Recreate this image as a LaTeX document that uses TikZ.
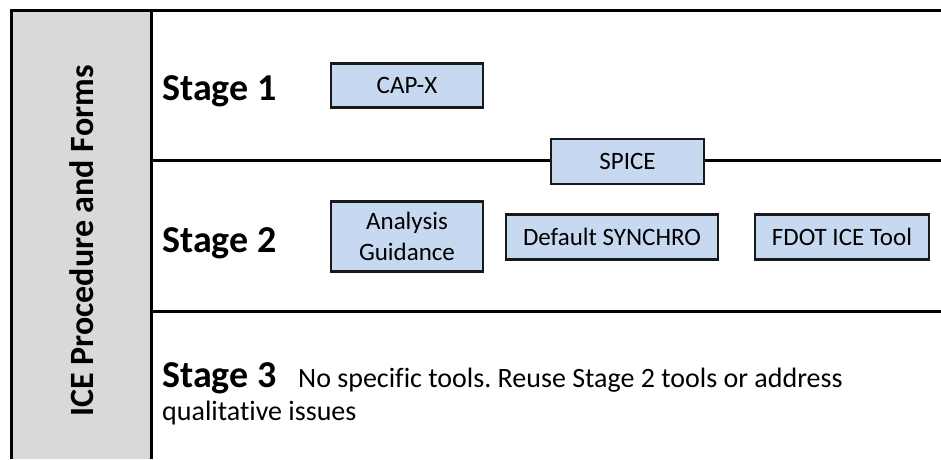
\documentclass[tikz,border=0pt]{standalone}
\usepackage{fontspec}
\setmainfont{Carlito}[Ligatures={NoCommon}]
\definecolor{toolblue}{HTML}{C6D9F1}
\definecolor{sidegray}{HTML}{D9D9D9}
\frenchspacing
\begin{document}
\begin{tikzpicture}[x=1pt,y=-1pt,
  frame/.style={line width=3pt, black},
  tool/.style={draw=black!90, line width=2.7pt, fill=toolblue, inner sep=0pt,
    font=\fontsize{25}{31}\selectfont, align=center},
  stagelabel/.style={font=\bfseries\fontsize{38}{40}\selectfont, anchor=base west, inner sep=0pt},
  desc/.style={font=\fontsize{28}{38}\selectfont, anchor=base west, inner sep=0pt}]
\useasboundingbox (0,0) rectangle (941,459);
% side column
\fill[sidegray] (11,10) rectangle (151,459);
\node[rotate=90, font=\bfseries\fontsize{34}{36}\selectfont, inner sep=0pt] (title) at (82,241) {ICE Procedure and Forms};
% frame
\coordinate (tl) at (11,10.5);
\coordinate (tr) at (941,10.5);
\coordinate (bl) at (11,459);
\coordinate (vt) at (151,10.5);
\coordinate (vb) at (151,459);
\coordinate (h1l) at (151,160.5);
\coordinate (h1r) at (941,160.5);
\coordinate (h2l) at (151,311.5);
\coordinate (h2r) at (941,311.5);
\draw[frame] (tr) -- (tl) -- (bl);
\draw[frame] (vt) -- (vb);
\draw[frame] (h2l) -- (h2r);
% stage labels
\node[stagelabel] (s1) at (162,100) {Stage 1};
\node[stagelabel] (s2) at (162,252) {Stage 2};
\node[stagelabel] (s3) at (162,387) {Stage 3};
\node[desc] (d1) at (298,387) {No specific tools. Reuse Stage 2 tools or address};
\node[desc] (d2) at (162,420) {qualitative issues};
% tools
\node[tool, minimum width=152pt, minimum height=44pt] (capx) at (407,85.5) {CAP-X};
\node[tool, minimum width=153pt, minimum height=45pt] (spice) at (627.5,161.5) {SPICE};
\node[tool, minimum width=152pt, minimum height=70pt] (analysis) at (407,236.5) {Analysis\\Guidance};
\node[tool, minimum width=212pt, minimum height=45pt] (synchro) at (612,237) {Default SYNCHRO};
\node[tool, minimum width=174pt, minimum height=45pt] (fdot) at (842,237) {FDOT ICE Tool};
\draw[frame] (h1l) -- (spice.west |- h1l);
\draw[frame] (spice.east |- h1r) -- (h1r);
\end{tikzpicture}
\end{document}
